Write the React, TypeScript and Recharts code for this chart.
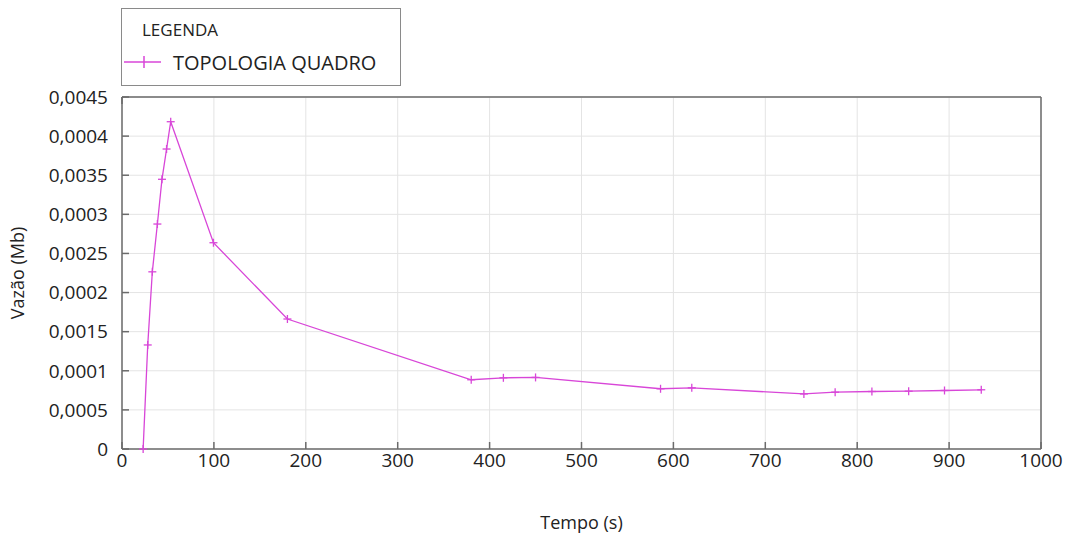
import { LineChart, Line, XAxis, YAxis, CartesianGrid } from 'recharts'

const tempo = [23, 28, 33, 38.5, 43.5, 48.5, 53, 99.5, 180, 380, 415, 450, 586, 620, 742, 776, 816, 856, 895, 935]
const vazao = [
  0, 0.00133, 0.002265, 0.002876, 0.003448, 0.003835, 0.004184, 0.002637, 0.001662,
  0.000885, 0.00091, 0.000915, 0.00077, 0.000782, 0.000704, 0.000726, 0.000735, 0.000739, 0.000748, 0.000757,
]
const xTicks = [0, 100, 200, 300, 400, 500, 600, 700, 800, 900, 1000]
// labels as printed on the original axis
const yTickLabels = ['0', '0,0005', '0,0001', '0,0015', '0,0002', '0,0025', '0,0003', '0,0035', '0,0004', '0,0045']
const yTicks = yTickLabels.map((_, i) => i * 0.0005)
const seriesName = 'TOPOLOGIA QUADRO'

const data = tempo.map((t, i) => ({ tempo: t, vazao: vazao[i] }))

const COLOR = '#d846d8'
const AXIS = '#6b6b6b'
const FONT = '"Open Sans", sans-serif'

const PlusDot = ({ cx, cy }: any) => {
  if (cx == null || cy == null) return null
  return (
    <g stroke={COLOR} strokeWidth={1.3}>
      <line x1={cx - 4} y1={cy} x2={cx + 4} y2={cy} />
      <line x1={cx} y1={cy - 4} x2={cx} y2={cy + 4} />
    </g>
  )
}

const LegendBox = () => (
  <div
    style={{
      position: 'absolute',
      left: 121,
      top: 8,
      width: 278,
      height: 76,
      border: '1px solid #8a8a8a',
      background: '#fff',
      fontFamily: FONT,
      color: '#222',
    }}
  >
    <div style={{ position: 'absolute', left: 20, top: 9, fontSize: 17 }}>LEGENDA</div>
    <svg width={40} height={20} style={{ position: 'absolute', left: 2, top: 43 }}>
      <line x1={0} y1={10} x2={37} y2={10} stroke={COLOR} strokeWidth={1.5} />
      <line x1={20} y1={4} x2={20} y2={16} stroke={COLOR} strokeWidth={1.5} />
    </svg>
    <div style={{ position: 'absolute', left: 51, top: 40, fontSize: 20 }}>{seriesName}</div>
  </div>
)

export default function App() {
  return (
    <div style={{ position: 'absolute', left: 0, top: 0, width: 1068, height: 537, background: '#fff' }}>
      <LineChart width={1068} height={537} data={data} margin={{ top: 96, right: 26, bottom: 0, left: 0 }}>
        <CartesianGrid stroke="#e4e4e4" strokeWidth={1} />
        <XAxis
          dataKey="tempo"
          type="number"
          domain={[0, 1000]}
          ticks={xTicks}
          interval={0}
          height={88}
          tickSize={-7}
          tickMargin={12}
          stroke={AXIS}
          strokeWidth={1.5}
          tick={{ fill: '#222', fontSize: 19, fontFamily: FONT }}
          label={{ value: 'Tempo (s)', position: 'insideBottom', offset: 8, fill: '#222', fontSize: 18, fontFamily: FONT }}
        />
        <XAxis
          xAxisId="top"
          orientation="top"
          type="number"
          domain={[0, 1000]}
          ticks={xTicks}
          interval={0}
          height={1}
          tickSize={-7}
          tickFormatter={() => ''}
          stroke={AXIS}
          strokeWidth={1.5}
        />
        <YAxis
          type="number"
          domain={[0, 0.0045]}
          ticks={yTicks}
          interval={0}
          width={122}
          tickSize={-7}
          tickMargin={21}
          stroke={AXIS}
          strokeWidth={1.5}
          tickFormatter={(_v: number, i: number) => yTickLabels[i]}
          tick={{ fill: '#222', fontSize: 19, fontFamily: FONT }}
          label={{ value: 'Vazão (Mb)', angle: -90, position: 'insideLeft', offset: 18, fill: '#222', fontSize: 18, fontFamily: FONT, style: { textAnchor: 'middle' } }}
        />
        <YAxis
          yAxisId="right"
          orientation="right"
          type="number"
          domain={[0, 0.0045]}
          ticks={yTicks}
          interval={0}
          width={1}
          tickSize={-7}
          tickFormatter={() => ''}
          stroke={AXIS}
          strokeWidth={1.5}
        />
        <Line
          dataKey="vazao"
          name={seriesName}
          stroke={COLOR}
          strokeWidth={1.3}
          dot={<PlusDot />}
          activeDot={false}
          isAnimationActive={false}
        />
      </LineChart>
      <LegendBox />
    </div>
  )
}
